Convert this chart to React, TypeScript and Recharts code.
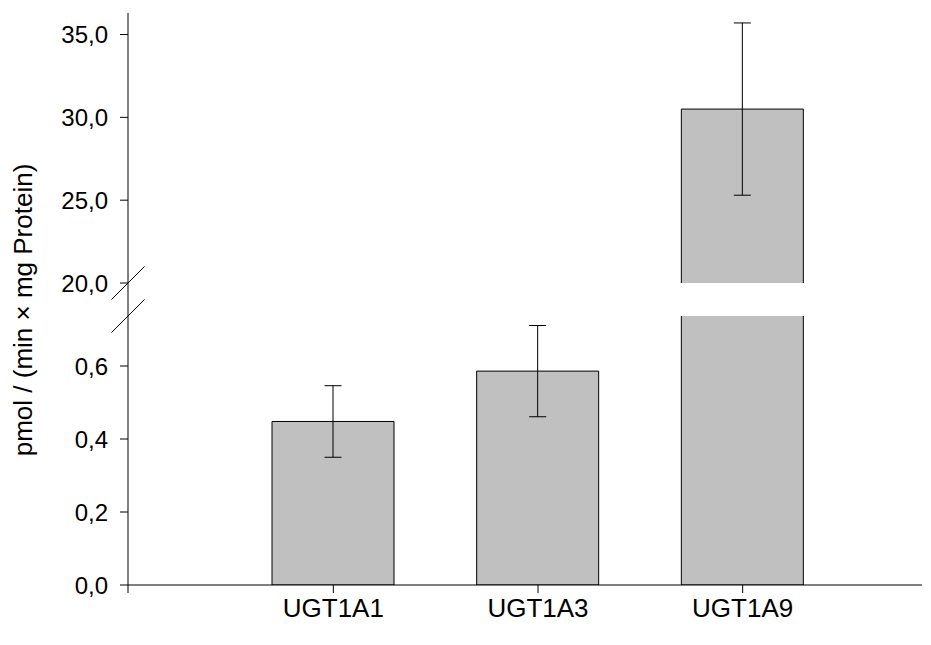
import React from "react"
import { Bar, BarChart, ErrorBar, XAxis, YAxis } from "recharts"

// enzyme isoforms
const categories = ["UGT1A1", "UGT1A3", "UGT1A9"]
// mean activity and SD, pmol / (min x mg protein)
const means = [0.448, 0.586, 30.5]
const errors = [0.098, 0.125, 5.2]

const lowerTicks = [0, 0.2, 0.4, 0.6]
const upperTicks = [20, 25, 30, 35]
const lowerMax = 0.737
const upperMin = 20
const upperMax = 36.3

const W = 931
const H = 645
const plotLeft = 128
const plotRight = 922
const upperTop = 13
const upperBottom = 283
const lowerTop = 316
const lowerBottom = 585

const font = "'Liberation Sans', Arial, sans-serif"
const fill = "#c0c0c0"

const fmt = (v: number) => v.toFixed(1).replace(".", ",")

const upperData = categories.map((name, i) => ({
  name,
  value: means[i] > upperMin ? means[i] : null,
  err: means[i] > upperMin ? errors[i] : null,
}))

const lowerData = categories.map((name, i) => ({
  name,
  value: means[i],
  err: means[i] > lowerMax ? null : errors[i],
}))

const yTick = { fontSize: 24, fill: "#000", fontFamily: font }
const xTick = { fontSize: 26, fill: "#000", fontFamily: font }
const xPadding = { left: 103, right: 77 }

// top part of a broken bar: no outline along the break
function OpenBottomBar(props: any) {
  const { x, y, width, height } = props
  if (!height) return null
  return (
    <g>
      <rect x={x} y={y} width={width} height={height} fill={fill} />
      <path
        d={`M${x},${y + height}L${x},${y}L${x + width},${y}L${x + width},${y + height}`}
        fill="none"
        stroke="#000"
        strokeWidth={1}
      />
    </g>
  )
}

export default function App() {
  const breakDx = 16.5
  return (
    <div style={{ position: "absolute", left: 0, top: 0, width: W, height: H, background: "#fff" }}>
      <div style={{ position: "absolute", left: 0, top: 0 }}>
        <BarChart
          width={W}
          height={H}
          data={upperData}
          margin={{ top: upperTop, right: W - plotRight, bottom: H - upperBottom, left: 0 }}
        >
          <XAxis dataKey="name" hide padding={xPadding} />
          <YAxis
            width={plotLeft}
            domain={[upperMin, upperMax]}
            ticks={upperTicks}
            allowDataOverflow
            tickFormatter={fmt}
            tick={yTick}
            tickSize={8}
            tickMargin={12}
            stroke="#000"
          />
          <Bar dataKey="value" fill={fill} barSize={122} shape={OpenBottomBar} isAnimationActive={false}>
            <ErrorBar dataKey="err" direction="y" width={8.5} stroke="#000" strokeWidth={1} />
          </Bar>
        </BarChart>
      </div>
      <div style={{ position: "absolute", left: 0, top: 0 }}>
        <BarChart
          width={W}
          height={H}
          data={lowerData}
          margin={{ top: lowerTop, right: W - plotRight, bottom: 0, left: 0 }}
        >
          <XAxis
            dataKey="name"
            height={H - lowerBottom}
            padding={xPadding}
            tick={xTick}
            tickSize={8}
            tickMargin={6}
            stroke="#000"
          />
          <YAxis
            width={plotLeft}
            domain={[0, lowerMax]}
            ticks={lowerTicks}
            allowDataOverflow
            tickFormatter={fmt}
            tick={yTick}
            tickSize={8}
            tickMargin={12}
            stroke="#000"
          />
          <Bar dataKey="value" fill={fill} stroke="#000" strokeWidth={1} barSize={122} isAnimationActive={false}>
            <ErrorBar dataKey="err" direction="y" width={8.5} stroke="#000" strokeWidth={1} />
          </Bar>
        </BarChart>
      </div>
      <svg
        width={W}
        height={H}
        style={{ position: "absolute", left: 0, top: 0, pointerEvents: "none" }}
      >
        <g stroke="#000" strokeWidth={1}>
          <line x1={plotLeft} y1={upperBottom} x2={plotLeft} y2={lowerTop} />
          <line x1={plotLeft} y1={lowerBottom} x2={plotLeft} y2={lowerBottom + 8} />
          <line x1={plotLeft - breakDx} y1={upperBottom + breakDx} x2={plotLeft + breakDx} y2={upperBottom - breakDx} />
          <line x1={plotLeft - breakDx} y1={lowerTop + breakDx} x2={plotLeft + breakDx} y2={lowerTop - breakDx} />
        </g>
        <text
          transform="translate(32, 310) rotate(-90)"
          textAnchor="middle"
          fontSize={26}
          fontFamily={font}
          fill="#000"
        >
          pmol / (min × mg Protein)
        </text>
      </svg>
    </div>
  )
}
